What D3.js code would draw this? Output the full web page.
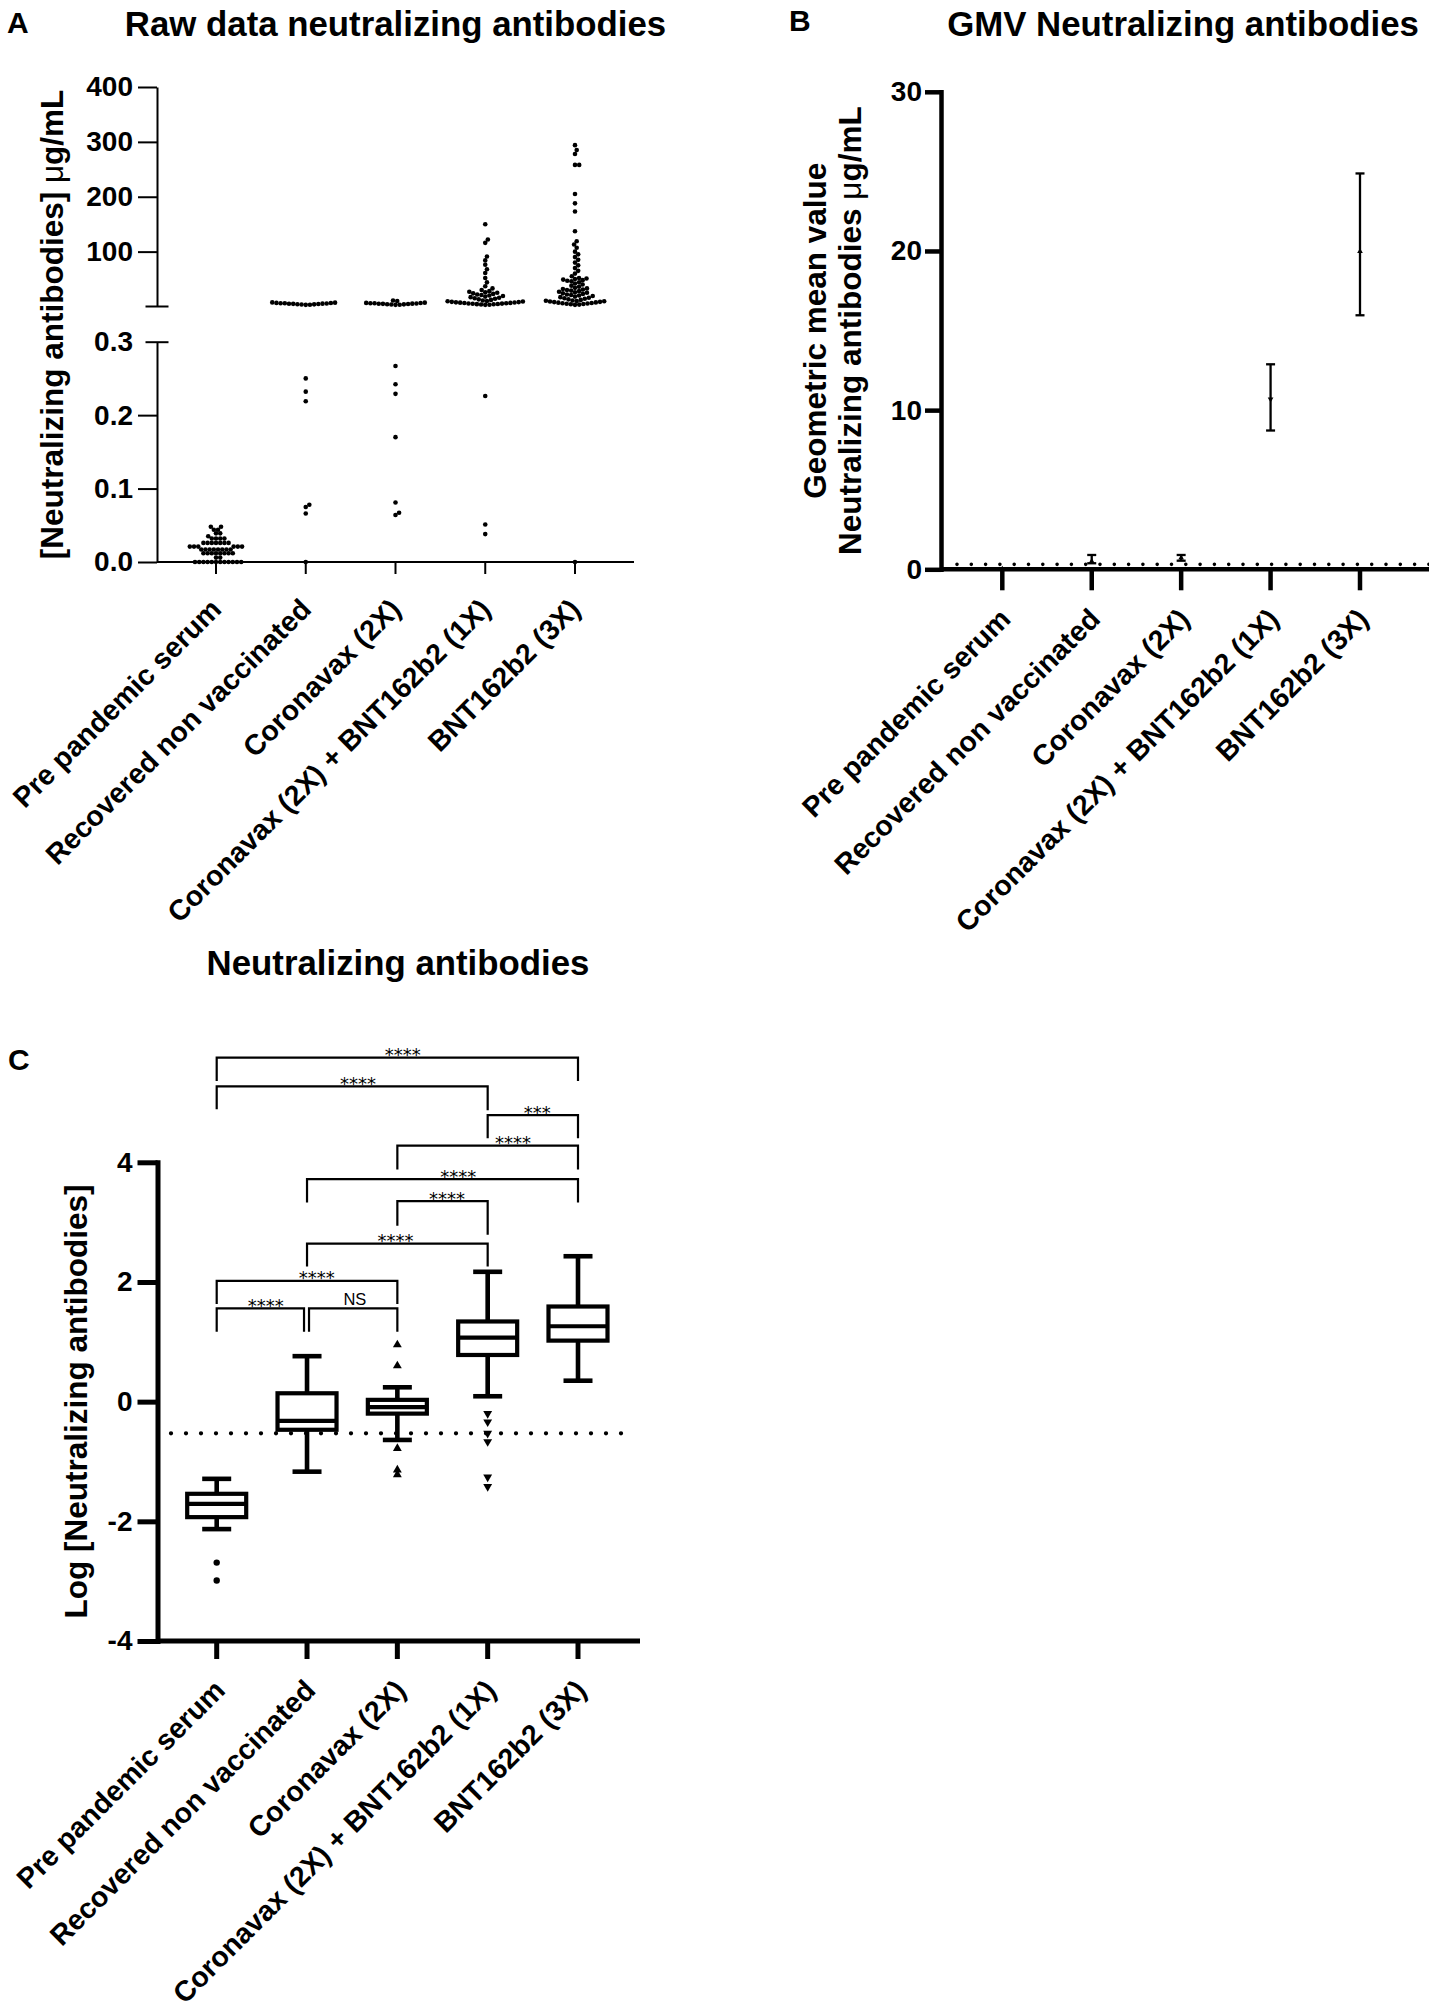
<!DOCTYPE html>
<html><head><meta charset="utf-8">
<script src="https://cdn.jsdelivr.net/npm/d3@7"></script>
<style>body{margin:0;background:#fff}svg{display:block}</style>
</head><body><svg id="c" width="1429" height="2016"></svg>
<script>
// ---------------- DATA ----------------
const categories = ["Pre pandemic serum","Recovered non vaccinated","Coronavax (2X)","Coronavax (2X) + BNT162b2 (1X)","BNT162b2 (3X)"];

// Panel A: raw neutralizing antibodies (μg/mL), one array per group
const rawPrePandemic = [0,0,0,0,0,0,0,0,0,0,0,0,0.006,0.006,0.012,0.012,0.012,0.012,0.012,0.012,0.012,0.012,0.017,0.017,0.017,0.017,0.017,0.017,0.017,0.017,0.021,0.021,0.021,0.021,0.021,0.021,0.026,0.026,0.026,0.026,0.026,0.026,0.026,0.032,0.032,0.032,0.032,0.035,0.039,0.039,0.044,0.044,0.048,0.048];
const rawRecovered = [0,0.066,0.075,0.078,0.219,0.232,0.25,3,3.3,3.6,3.9,4.2,4.5,4.8,5,5.2,5.5,5.8,6,6.3,6.6,7,7.5];
const rawCoronavax = [0.064,0.067,0.081,0.17,0.229,0.242,0.267,3,3.3,3.6,3.9,4.2,4.5,4.8,5,5.2,5.5,5.8,6,6.3,6.6,7,10,11];
const rawCoronavaxBNT = [0.038,0.051,0.226,3,3.3,3.6,4,4.3,4.6,5,5.3,5.6,6,6.3,6.6,7,7.3,7.6,8,8.5,9,9.5,10,11,12,13,14,15,16,17,18,19,20,21,22,23,24,25,26,27,28,30,33,37,44,52,61,68,76,84,91,116,122,150];
const rawBNT3X = [0,3,3.5,4,4.5,5,5.5,6,6.5,7,7.5,8,8.5,9,9.5,10,10.5,11,12,13,14,15,16,17,18,19,20,21,22,23,24,25,26,27,28,29,30,31,32,33,34,36,38,40,42,44,46,47,48,49,50,51,52,55,60,65,70,75,80,85,90,95,100,107,113,119,137,173,188,205,258,258,278,285,294];
const rawGroups = [rawPrePandemic, rawRecovered, rawCoronavax, rawCoronavaxBNT, rawBNT3X];
const aBreakValue = 0.3;
const aUpperTicks = [100,200,300,400];
const aLowerTicks = [0,0.1,0.2,0.3];

// Panel B: geometric mean value with 95% CI (μg/mL)
const gmvMean = [0.02,0.5,0.72,10.69,19.97];
const gmvLow  = [0.015,0.38,0.54,8.72,15.96];
const gmvHigh = [0.025,0.9,0.9,12.88,24.87];
const gmvLimit = 0.31;
const bTicks = [0,10,20,30];

// Panel C: log10 neutralizing antibodies, box (min,q1,median,q3,max)
const logMin    = [-2.13,-1.17,-0.64,0.09,0.35];
const logQ1     = [-1.93,-0.47,-0.20,0.78,1.02];
const logMedian = [-1.71,-0.32,-0.09,1.07,1.26];
const logQ3     = [-1.54,0.14,0.03,1.34,1.59];
const logMax    = [-1.29,0.76,0.24,2.17,2.43];
const logOutliers = [[-2.69,-2.99],[],[0.95,0.6,-0.78,-1.14,-1.22],[-0.2,-0.34,-0.53,-0.67,-1.26,-1.42],[]];
const logLimit = -0.53;
const cTicks = [-4,-2,0,2,4];
const comparisons = [[0,4,"****"],[0,3,"****"],[3,4,"***"],[2,4,"****"],[1,4,"****"],[2,3,"****"],[1,3,"****"],[0,2,"****"],[0,1,"****"],[1,2,"NS"]];

// ---------------- LAYOUT ----------------
const FONT = '"Liberation Sans", Arial, Helvetica, sans-serif';
// bracket layout (in y data units of panel C): line level, left drop end, right drop end, label position (category index units)
const bracketLayout = [
 {y:5.75,dl:5.36,dr:5.36,lx:2.06},
 {y:5.27,dl:4.885,dr:4.87,lx:1.565},
 {y:4.79,dl:4.40,dr:4.40,lx:3.55},
 {y:4.28,dl:3.88,dr:3.88,lx:3.28},
 {y:3.72,dl:3.33,dr:3.33,lx:2.675},
 {y:3.35,dl:2.94,dr:2.79,lx:2.55},
 {y:2.64,dl:2.26,dr:2.26,lx:1.98},
 {y:2.02,dl:1.63,dr:1.63,lx:1.107},
 {y:1.56,dl:1.17,dr:1.17,lx:0.544,insetR:3},
 {y:1.56,dl:1.17,dr:1.17,lx:1.53,insetL:2}
];

const svg = d3.select("#c");
svg.append("rect").attr("width",1429).attr("height",2016).attr("fill","#fff");

function styleAxis(g, sw, fs){
  g.attr("font-family",FONT).attr("font-size",fs).attr("font-weight","bold");
  g.selectAll("path.domain").attr("stroke","#000").attr("stroke-width",sw);
  g.selectAll(".tick line").attr("stroke","#000").attr("stroke-width",sw);
  g.selectAll(".tick text").attr("fill","#000");
}
function txt(x,y,s,size,weight,anchor){
  return svg.append("text").attr("x",x).attr("y",y).text(s)
    .attr("font-family",FONT).attr("font-size",size).attr("font-weight",weight||"bold")
    .attr("text-anchor",anchor||"middle").attr("fill","#000");
}
function swarm(ys, D){
  const placed=[];
  return ys.map(y=>{
    const near=placed.filter(p=>Math.abs(p.y-y)<D);
    const c=[0];
    near.forEach(p=>{const dx=Math.sqrt(D*D-(p.y-y)*(p.y-y)); c.push(p.x+dx,p.x-dx);});
    c.sort((a,b)=>Math.abs(a)-Math.abs(b));
    const x=c.find(cx=>near.every(p=>(p.x-cx)*(p.x-cx)+(p.y-y)*(p.y-y)>=D*D-0.01));
    placed.push({x,y});
    return x;
  });
}
function catLabels(xs, axisY, dx, dy){
  svg.append("g").selectAll("text").data(categories).join("text")
    .attr("transform",d=>`translate(${xs(d)+dx},${axisY+dy}) rotate(-45)`)
    .attr("text-anchor","end").attr("font-family",FONT).attr("font-size",28.5)
    .attr("font-weight","bold").attr("fill","#000").text(d=>d);
}

// ---------------- PANEL A ----------------
{
  const axX = 157, axY = 562;
  const xA = d3.scalePoint().domain(categories).range([216,575]);
  const yUp = d3.scaleLinear().domain([0,400]).range([306.5,87]);
  const yLo = d3.scaleLinear().domain([0,0.3]).range([axY,341.7]);
  txt(7,33,"A",30,"bold","start");
  txt(395.5,36,"Raw data neutralizing antibodies",34.8);
  const lab = svg.append("text").attr("transform","translate(63,324.5) rotate(-90)")
    .attr("text-anchor","middle").attr("font-family",FONT).attr("font-size",31.5).attr("font-weight","bold").attr("fill","#000");
  lab.append("tspan").text("[Neutralizing antibodies]  ");
  lab.append("tspan").attr("font-weight","normal").text("μ");
  lab.append("tspan").text("g/mL");

  const gu = svg.append("g").attr("transform",`translate(${axX},0)`)
    .call(d3.axisLeft(yUp).tickValues(aUpperTicks).tickSize(19).tickSizeOuter(0).tickPadding(5));
  styleAxis(gu,2,28);
  gu.append("line").attr("x1",-11.5).attr("x2",11.5).attr("y1",yUp(0)).attr("y2",yUp(0)).attr("stroke","#000").attr("stroke-width",2);
  const gl = svg.append("g").attr("transform",`translate(${axX},0)`)
    .call(d3.axisLeft(yLo).tickValues(aLowerTicks).tickSize(19).tickSizeOuter(0).tickPadding(5).tickFormat(d3.format(".1f")));
  styleAxis(gl,2,28);
  gl.selectAll(".tick").filter(d=>d===0.3).select("line").attr("x1",11.5).attr("x2",-11.5);
  // x axis
  svg.append("line").attr("x1",axX).attr("x2",634).attr("y1",axY).attr("y2",axY).attr("stroke","#000").attr("stroke-width",2);
  svg.append("g").selectAll("line").data(categories).join("line")
    .attr("x1",d=>xA(d)).attr("x2",d=>xA(d)).attr("y1",axY).attr("y2",axY+12).attr("stroke","#000").attr("stroke-width",2);
  // points
  const gp = svg.append("g");
  rawGroups.forEach((vals,i)=>{
    const ys = vals.map(v=> v<=aBreakValue ? yLo(v) : yUp(v)).sort((a,b)=>b-a);
    const xs = swarm(ys,4.2);
    gp.selectAll(null).data(ys).join("circle")
      .attr("cx",(d,k)=>xA(categories[i])+xs[k]).attr("cy",d=>d).attr("r",2.3).attr("fill","#000");
  });
  catLabels(xA, axY, 7, 49);
}

// ---------------- PANEL B ----------------
{
  const axX = 941, axY = 569.3;
  const xB = d3.scalePoint().domain(categories).range([1002.3,1360]);
  const yB = d3.scaleLinear().domain([0,30]).range([axY,91.8]);
  txt(789,31,"B",30,"bold","start");
  txt(1183,36,"GMV Neutralizing antibodies",34.8);
  txt(0,0,"Geometric mean value",31.5).attr("transform","translate(826,330.7) rotate(-90)").attr("x",null).attr("y",null);
  const l2 = svg.append("text").attr("transform","translate(861,330.7) rotate(-90)")
    .attr("text-anchor","middle").attr("font-family",FONT).attr("font-size",31.5).attr("font-weight","bold").attr("fill","#000");
  l2.append("tspan").text("Neutralizing antibodies ");
  l2.append("tspan").attr("font-weight","normal").text("μ");
  l2.append("tspan").text("g/mL");

  const g = svg.append("g").attr("transform",`translate(${axX},0)`)
    .call(d3.axisLeft(yB).tickValues(bTicks).tickSize(16).tickSizeOuter(0).tickPadding(3));
  styleAxis(g,4.5,28);
  g.select("path.domain").attr("stroke-linecap","square");
  // dotted limit
  svg.append("line").attr("x1",957).attr("x2",1429).attr("y1",yB(gmvLimit)).attr("y2",yB(gmvLimit))
    .attr("stroke","#000").attr("stroke-width",3.6).attr("stroke-linecap","round").attr("stroke-dasharray","0 14.3");
  svg.append("line").attr("x1",axX).attr("x2",1429).attr("y1",axY).attr("y2",axY).attr("stroke","#000").attr("stroke-width",4.5);
  svg.append("g").selectAll("line").data(categories).join("line")
    .attr("x1",d=>xB(d)).attr("x2",d=>xB(d)).attr("y1",axY).attr("y2",axY+21).attr("stroke","#000").attr("stroke-width",4.5);
  // error bars
  const ge = svg.append("g").attr("stroke","#000").attr("stroke-width",2.3);
  categories.forEach((c,i)=>{
    const x = xB(c);
    ge.append("line").attr("x1",x).attr("x2",x).attr("y1",yB(gmvLow[i])).attr("y2",yB(gmvHigh[i]));
    ge.append("line").attr("x1",x-4.5).attr("x2",x+4.5).attr("y1",yB(gmvLow[i])).attr("y2",yB(gmvLow[i]));
    ge.append("line").attr("x1",x-4.5).attr("x2",x+4.5).attr("y1",yB(gmvHigh[i])).attr("y2",yB(gmvHigh[i]));
    svg.append("path").attr("d",d3.symbol(d3.symbolTriangle,14)())
      .attr("transform",`translate(${x},${yB(gmvMean[i])})`+(i===3?" rotate(180)":"")).attr("fill","#000");
  });
  catLabels(xB, axY, 10, 51.5);
}

// ---------------- PANEL C ----------------
{
  const axX = 157.5, axY = 1641;
  const xC = d3.scalePoint().domain(categories).range([216.7,578]);
  const yC = d3.scaleLinear().domain([-4,4]).range([axY,1162.3]);
  txt(8,1070,"C",30,"bold","start");
  txt(398,975,"Neutralizing antibodies",34.8);
  txt(0,0,"Log [Neutralizing antibodies]",31.5).attr("transform","translate(87,1401.5) rotate(-90)").attr("x",null).attr("y",null);

  const g = svg.append("g").attr("transform",`translate(${axX},0)`)
    .call(d3.axisLeft(yC).tickValues(cTicks).tickSize(20).tickSizeOuter(0).tickPadding(5).tickFormat(d=>String(d)));
  styleAxis(g,5,28);
  g.select("path.domain").attr("stroke-linecap","square");
  svg.append("line").attr("x1",axX).attr("x2",640).attr("y1",axY).attr("y2",axY).attr("stroke","#000").attr("stroke-width",5);
  svg.append("g").selectAll("line").data(categories).join("line")
    .attr("x1",d=>xC(d)).attr("x2",d=>xC(d)).attr("y1",axY).attr("y2",axY+18).attr("stroke","#000").attr("stroke-width",5);
  // dotted limit
  svg.append("line").attr("x1",171).attr("x2",636).attr("y1",yC(logLimit)).attr("y2",yC(logLimit))
    .attr("stroke","#000").attr("stroke-width",4.3).attr("stroke-linecap","round").attr("stroke-dasharray","0 15");
  // boxes
  const gb = svg.append("g").attr("stroke","#000").attr("fill","none");
  const bw = 59, cw = 29;
  categories.forEach((c,i)=>{
    const x = xC(c);
    gb.append("line").attr("x1",x).attr("x2",x).attr("y1",yC(logMin[i])).attr("y2",yC(logQ1[i])).attr("stroke-width",4.6);
    gb.append("line").attr("x1",x).attr("x2",x).attr("y1",yC(logQ3[i])).attr("y2",yC(logMax[i])).attr("stroke-width",4.6);
    gb.append("line").attr("x1",x-cw/2).attr("x2",x+cw/2).attr("y1",yC(logMin[i])).attr("y2",yC(logMin[i])).attr("stroke-width",4.6);
    gb.append("line").attr("x1",x-cw/2).attr("x2",x+cw/2).attr("y1",yC(logMax[i])).attr("y2",yC(logMax[i])).attr("stroke-width",4.6);
    gb.append("rect").attr("x",x-bw/2).attr("width",bw).attr("y",yC(logQ3[i])).attr("height",yC(logQ1[i])-yC(logQ3[i])).attr("stroke-width",4.2);
    gb.append("line").attr("x1",x-bw/2).attr("x2",x+bw/2).attr("y1",yC(logMedian[i])).attr("y2",yC(logMedian[i])).attr("stroke-width",4.2);
    logOutliers[i].forEach(v=>{
      if(i===0){ svg.append("circle").attr("cx",x).attr("cy",yC(v)).attr("r",3.2).attr("fill","#000"); }
      else {
        svg.append("path").attr("d",d3.symbol(d3.symbolTriangle,34)())
          .attr("transform",`translate(${x},${yC(v)})`+(i===3?" rotate(180)":"")).attr("fill","#000");
      }
    });
  });
  // brackets
  const step = xC.step();
  const x0 = xC(categories[0]);
  const gk = svg.append("g").attr("stroke","#000").attr("stroke-width",2.2).attr("fill","none");
  comparisons.forEach((cmp,k)=>{
    const L = bracketLayout[k];
    const xa = xC(categories[cmp[0]]) + (L.insetL||0), xb = xC(categories[cmp[1]]) - (L.insetR||0);
    gk.append("path").attr("d",`M${xa},${yC(L.dl)}V${yC(L.y)}H${xb}V${yC(L.dr)}`);
    if (cmp[2]==="NS") {
      txt(x0 + L.lx*step, yC(L.y) - 3.3, cmp[2], 16.5, "normal");
    } else {
      txt(x0 + L.lx*step, yC(L.y) + 3.5, cmp[2], 18, "normal").attr("font-family",'"DejaVu Sans", sans-serif');
    }
  });
  catLabels(xC, axY, 10, 51);
}
</script></body></html>
